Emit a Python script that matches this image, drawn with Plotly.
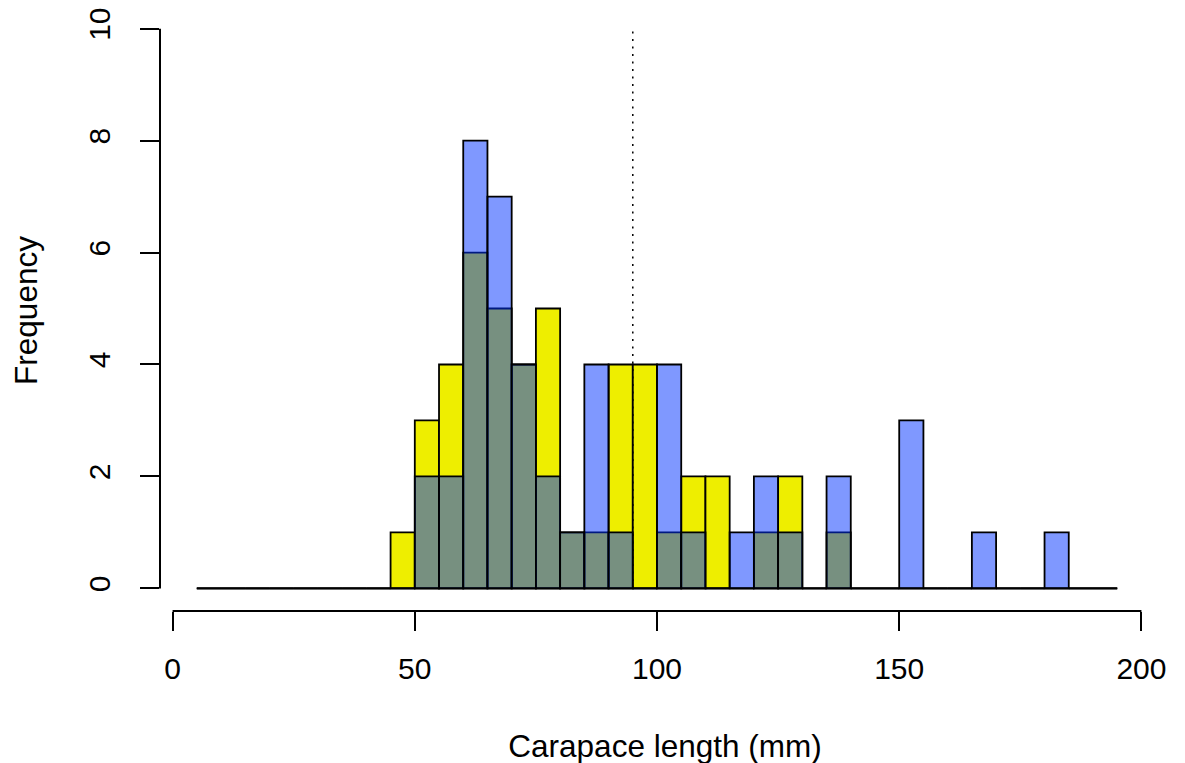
import numpy as np
import plotly.graph_objects as go

# histogram bins (width 5 mm, 5..195)
bin_start = 5
bin_width = 5
n_bins = 38

# counts per bin, starting at 5 mm
blue_counts = [0, 0, 0, 0, 0, 0, 0, 0,
               0, 2, 2, 8, 7, 4, 2, 1, 4, 1, 0, 4, 1, 0, 1, 2, 1, 0, 2,
               0, 0, 3, 0, 0, 1, 0, 0, 1, 0, 0]
yellow_counts = [0, 0, 0, 0, 0, 0, 0, 0,
                 1, 3, 4, 6, 5, 4, 5, 1, 1, 4, 4, 1, 2, 2, 0, 1, 2, 0, 1,
                 0, 0, 0, 0, 0, 0, 0, 0, 0, 0, 0]
mean_length = 95

x_ticks = [0, 50, 100, 150, 200]
y_ticks = [0, 2, 4, 6, 8, 10]

edges = bin_start + bin_width * np.arange(n_bins + 1)
centers = (edges[:-1] + edges[1:]) / 2

family = "Liberation Sans, Arial, sans-serif"
tick_font = dict(family=family, size=30, color="black")
title_font = dict(family=family, size=31.5, color="black")

fig = go.Figure()
fig.add_trace(go.Bar(x=centers, y=yellow_counts, width=bin_width,
                     marker=dict(color="#EEEE00", line=dict(color="black", width=1.8))))
fig.add_trace(go.Bar(x=centers, y=blue_counts, width=bin_width,
                     marker=dict(color="rgba(0,50,255,0.5)", line=dict(color="black", width=1.8))))

# zero baseline across all bins
fig.add_shape(type="line", xref="x", yref="y", x0=edges[0], x1=edges[-1], y0=0, y1=0,
              line=dict(color="black", width=1.8))
# dotted reference line
fig.add_shape(type="line", xref="x", yref="y", x0=mean_length, x1=mean_length,
              y0=0, y1=max(y_ticks), line=dict(color="black", width=1.5, dash="2px,5.5px"))
# R-style detached axis lines
fig.add_shape(type="line", xref="x", yref="paper", x0=x_ticks[0], x1=x_ticks[-1], y0=0, y1=0,
              line=dict(color="black", width=2))
fig.add_shape(type="line", xref="paper", yref="y", x0=0, x1=0, y0=y_ticks[0], y1=y_ticks[-1],
              line=dict(color="black", width=2))

fig.update_layout(
    width=1185, height=763,
    margin=dict(l=152, r=23, t=0, b=160),
    barmode="overlay",
    showlegend=False,
    plot_bgcolor="white", paper_bgcolor="white",
    font=tick_font,
    xaxis=dict(range=[-2.6, 205.9], tickvals=x_ticks, ticks="outside", ticklen=19,
               tickwidth=2, tickcolor="black", showline=False, showgrid=False,
               zeroline=False, ticklabelstandoff=12, tickfont=tick_font,
               title=dict(text="Carapace length (mm)", standoff=50, font=title_font)),
    yaxis=dict(range=[-0.404, 10.333], tickvals=y_ticks, ticks="outside", ticklen=19,
               tickwidth=2, tickcolor="black", showline=False, showgrid=False,
               zeroline=False, tickangle=-90, ticklabelstandoff=18, tickfont=tick_font,
               ticklabeloverflow="allow",
               title=dict(text="Frequency", standoff=47, font=title_font)),
)

fig.write_html("out.html")
